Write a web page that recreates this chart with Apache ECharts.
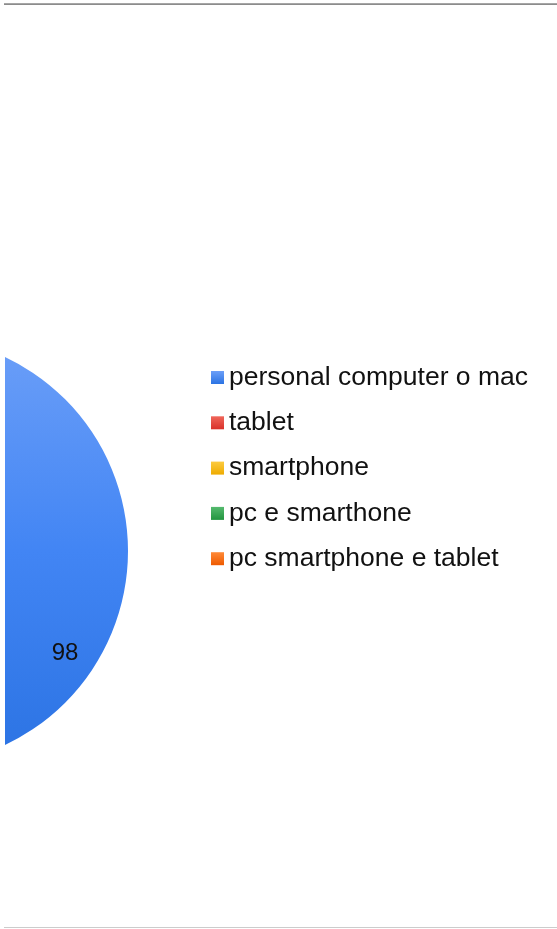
<!DOCTYPE html>
<html>
<head>
<meta charset="utf-8">
<script src="https://cdn.jsdelivr.net/npm/echarts@6/dist/echarts.min.js"></script>
<style>
  html, body { margin: 0; padding: 0; background: #fff; width: 557px; height: 929px; overflow: hidden; }
  #topline { position: absolute; left: 4px; top: 3px; width: 553px; height: 1px; background: #a6a6a6; }
  #topline2 { position: absolute; left: 4px; top: 4px; width: 553px; height: 1px; background: #8c8c8c; }
  #botline { position: absolute; left: 4px; top: 927px; width: 553px; height: 1px; background: #cccccc; }
  #chart { position: absolute; left: 5px; top: 0; width: 552px; height: 929px; }
</style>
</head>
<body>
<div id="topline"></div>
<div id="topline2"></div>
<div id="botline"></div>
<div id="chart"></div>
<script>
const categories = ['personal computer o mac', 'tablet', 'smartphone', 'pc e smarthone', 'pc smartphone e tablet'];
const values = [98, 1, 0, 1, 0];
const colors = ['#4285f4', '#ea4335', '#fbbc04', '#34a853', '#ff6d01'];
const darker = ['#2b73e3', '#d9312a', '#eeab00', '#22953f', '#ee5a00'];
const lighter = ['#6c9ff8', '#f0665a', '#fccb40', '#55ba6e', '#ff8a38'];

const chart = echarts.init(document.getElementById('chart'));

const pieData = categories.map((name, i) => ({
  name: name,
  value: values[i],
  itemStyle: {
    color: {
      type: 'linear', x: 0, y: 337, x2: 0, y2: 765, global: true,
      colorStops: [
        { offset: 0, color: lighter[i] },
        { offset: 0.5, color: colors[i] },
        { offset: 1, color: darker[i] }
      ]
    }
  }
}));

const legendData = categories.map((name, i) => ({
  name: name,
  itemStyle: {
    color: {
      type: 'linear', x: 0, y: 0, x2: 0, y2: 1,
      colorStops: [
        { offset: 0, color: lighter[i] },
        { offset: 1, color: darker[i] }
      ]
    }
  }
}));

chart.setOption({
  animation: false,
  legend: {
    orient: 'vertical',
    left: 206,
    top: 364,
    padding: 0,
    icon: 'rect',
    itemWidth: 13,
    itemHeight: 13,
    itemGap: 18.3,
    selectedMode: false,
    data: legendData,
    textStyle: {
      fontFamily: 'Liberation Sans, Arial, sans-serif',
      fontSize: 26.5,
      lineHeight: 27,
      color: '#111'
    }
  },
  series: [{
    type: 'pie',
    center: [-91.5, 551],
    radius: [0, 214.5],
    startAngle: 90,
    clockwise: true,
    avoidLabelOverlap: false,
    minShowLabelAngle: 20,
    data: pieData,
    itemStyle: { borderWidth: 0 },
    label: {
      show: true,
      position: 'inside',
      formatter: '{c}',
      fontFamily: 'Liberation Sans, Arial, sans-serif',
      fontSize: 24,
      color: '#111'
    },
    labelLine: { show: false },
    labelLayout: function (params) {
      if (params.dataIndex === 0) {
        return { x: 60, y: 653, align: 'center', verticalAlign: 'middle' };
      }
      return {};
    },
    emphasis: { disabled: true }
  }]
});
</script>
</body>
</html>
